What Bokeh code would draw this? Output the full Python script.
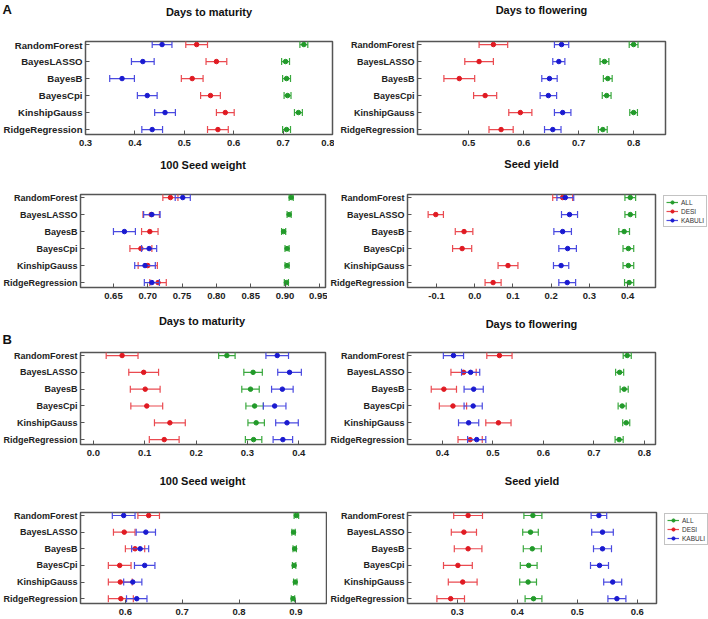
import math
from bokeh.plotting import figure
from bokeh.models import Range1d, FixedTicker, NumeralTickFormatter, Legend, LegendItem, Label, Spacer
from bokeh.layouts import column, row
from bokeh.embed import file_html
from bokeh.resources import INLINE

models = ["RandomForest", "BayesLASSO", "BayesB", "BayesCpi", "KinshipGauss", "RidgeRegression"]
groups = ["ALL", "DESI", "KABULI"]

# ---- Panel A ----
a_dtm_all = [0.742, 0.705, 0.707, 0.709, 0.731, 0.707]
a_dtm_all_err = [0.008, 0.008, 0.008, 0.007, 0.008, 0.008]
a_dtm_desi = [0.525, 0.565, 0.516, 0.553, 0.583, 0.568]
a_dtm_desi_err = [0.022, 0.021, 0.022, 0.020, 0.018, 0.021]
a_dtm_kab = [0.455, 0.416, 0.374, 0.425, 0.461, 0.435]
a_dtm_kab_err = [0.020, 0.023, 0.025, 0.020, 0.021, 0.021]

a_dtf_all = [0.800, 0.747, 0.753, 0.751, 0.800, 0.744]
a_dtf_all_err = [0.008, 0.008, 0.008, 0.008, 0.007, 0.008]
a_dtf_desi = [0.545, 0.519, 0.483, 0.530, 0.594, 0.559]
a_dtf_desi_err = [0.026, 0.026, 0.028, 0.021, 0.021, 0.022]
a_dtf_kab = [0.669, 0.664, 0.647, 0.645, 0.671, 0.653]
a_dtf_kab_err = [0.013, 0.011, 0.014, 0.015, 0.015, 0.015]

a_sw_all = [0.909, 0.906, 0.898, 0.903, 0.903, 0.902]
a_sw_all_err = [0.003, 0.003, 0.003, 0.003, 0.003, 0.003]
a_sw_desi = [0.733, 0.705, 0.703, 0.690, 0.700, 0.715]
a_sw_desi_err = [0.011, 0.012, 0.012, 0.016, 0.014, 0.012]
a_sw_kab = [0.751, 0.706, 0.666, 0.702, 0.696, 0.706]
a_sw_kab_err = [0.011, 0.012, 0.016, 0.011, 0.015, 0.011]

a_sy_all = [0.407, 0.407, 0.391, 0.402, 0.402, 0.404]
a_sy_all_err = [0.014, 0.014, 0.014, 0.014, 0.014, 0.012]
a_sy_desi = [0.230, -0.102, -0.028, -0.033, 0.087, 0.048]
a_sy_desi_err = [0.026, 0.020, 0.023, 0.025, 0.026, 0.021]
a_sy_kab = [0.237, 0.248, 0.230, 0.243, 0.226, 0.242]
a_sy_kab_err = [0.022, 0.021, 0.023, 0.023, 0.020, 0.022]

# ---- Panel B ----
b_dtm_all = [0.260, 0.311, 0.306, 0.314, 0.317, 0.312]
b_dtm_all_err = [0.016, 0.018, 0.017, 0.017, 0.016, 0.016]
b_dtm_desi = [0.056, 0.098, 0.101, 0.104, 0.149, 0.138]
b_dtm_desi_err = [0.031, 0.029, 0.029, 0.031, 0.030, 0.029]
b_dtm_kab = [0.358, 0.382, 0.368, 0.353, 0.377, 0.369]
b_dtm_kab_err = [0.022, 0.023, 0.021, 0.022, 0.022, 0.019]

b_dtf_all = [0.766, 0.751, 0.760, 0.756, 0.764, 0.750]
b_dtf_all_err = [0.008, 0.008, 0.008, 0.008, 0.007, 0.008]
b_dtf_desi = [0.513, 0.442, 0.403, 0.421, 0.511, 0.455]
b_dtf_desi_err = [0.025, 0.025, 0.025, 0.027, 0.025, 0.024]
b_dtf_kab = [0.422, 0.456, 0.462, 0.461, 0.452, 0.468]
b_dtf_kab_err = [0.020, 0.018, 0.019, 0.018, 0.020, 0.018]

b_sw_all = [0.901, 0.896, 0.898, 0.897, 0.899, 0.895]
b_sw_all_err = [0.004, 0.003, 0.003, 0.003, 0.003, 0.003]
b_sw_desi = [0.641, 0.598, 0.617, 0.590, 0.591, 0.592]
b_sw_desi_err = [0.019, 0.019, 0.017, 0.020, 0.021, 0.022]
b_sw_kab = [0.597, 0.636, 0.626, 0.634, 0.613, 0.620]
b_sw_kab_err = [0.020, 0.017, 0.015, 0.018, 0.016, 0.018]

b_sy_all = [0.426, 0.422, 0.425, 0.419, 0.418, 0.427]
b_sy_all_err = [0.015, 0.013, 0.015, 0.014, 0.014, 0.014]
b_sy_desi = [0.318, 0.311, 0.318, 0.301, 0.309, 0.289]
b_sy_desi_err = [0.024, 0.021, 0.023, 0.024, 0.024, 0.023]
b_sy_kab = [0.536, 0.542, 0.542, 0.537, 0.559, 0.566]
b_sy_kab_err = [0.013, 0.018, 0.015, 0.015, 0.015, 0.015]

titles = ["Days to maturity", "Days to flowering", "100 Seed weight", "Seed yield"]
panel_letters = ["A", "B"]

dot_colors = ["#229a2a", "#e01a22", "#1a1ad0"]
bar_colors = ["#3aa83e", "#ea4a50", "#4a4ae0"]

FONT = "Liberation Sans"
Y0, Y1 = 5.29, -0.18
TOTAL_W = 708


def blank(w, h):
    f = figure(width=w, height=h, output_backend="svg", toolbar_location=None,
               x_range=Range1d(0, w), y_range=Range1d(0, h),
               x_axis_location=None, y_axis_location=None, title_location=None,
               min_border=0)
    f.outline_line_color = None
    f.xgrid.visible = False
    f.ygrid.visible = False
    f.background_fill_color = "white"
    f.border_fill_color = "white"
    return f


def add_text(f, x, y, text, size, align="center"):
    f.add_layout(Label(x=x, y=y, text=text, text_font=FONT, text_align=align,
                       text_baseline="middle", text_font_size=size,
                       text_font_style="bold", text_color="#111111"))


def panel(series, xr, ticks, fmt, w, h, bl, br, bb, ysize="9px"):
    p = figure(width=w, height=h, output_backend="svg", toolbar_location=None,
               x_range=Range1d(*xr), y_range=Range1d(Y0, Y1), title_location=None,
               min_border_left=bl, min_border_right=br, min_border_top=2, min_border_bottom=bb)
    p.outline_line_color = "#555555"
    p.outline_line_width = 1.5
    p.xgrid.visible = False
    p.ygrid.visible = False
    p.background_fill_color = None
    p.border_fill_color = None

    ys = list(range(len(models)))
    for gi, (vals, errs) in enumerate(series):
        lo = [v - e for v, e in zip(vals, errs)]
        hi = [v + e for v, e in zip(vals, errs)]
        p.segment(x0=lo, x1=hi, y0=ys, y1=ys, line_color=bar_colors[gi], line_width=1.2)
        p.scatter(x=lo + hi, y=ys + ys, marker="dash", angle=math.pi / 2, size=7,
                  line_color=bar_colors[gi], line_width=1.2)
        p.scatter(x=vals, y=ys, size=4.5, fill_color=dot_colors[gi], line_color=dot_colors[gi])

    p.xaxis.ticker = FixedTicker(ticks=ticks)
    p.xaxis.formatter = NumeralTickFormatter(format=fmt)
    p.yaxis.ticker = FixedTicker(ticks=ys)
    p.yaxis.major_label_overrides = {i: m for i, m in enumerate(models)}
    for ax in (p.xaxis[0], p.yaxis[0]):
        ax.axis_line_color = None
        ax.major_tick_in = 4
        ax.major_tick_out = 0
        ax.major_tick_line_color = "#555555"
        ax.minor_tick_line_color = None
        ax.major_label_text_font = FONT
        ax.major_label_text_font_style = "bold"
        ax.major_label_text_color = "#222222"
    p.xaxis.major_label_text_font_size = "9.5px"
    p.xaxis.major_label_standoff = 5
    p.yaxis.major_label_text_font_size = ysize
    p.yaxis.major_label_standoff = 3
    return p


def legend_fig(w, h):
    f = blank(w, h)
    items = []
    for gi, g in enumerate(groups):
        seg = f.segment(x0=[-20], x1=[-10], y0=[-20], y1=[-20], line_color=bar_colors[gi], line_width=1.2)
        dot = f.scatter(x=[-15], y=[-20], size=4, fill_color=dot_colors[gi], line_color=dot_colors[gi])
        items.append(LegendItem(label=g, renderers=[seg, dot]))
    lg = Legend(items=items, location="top_left")
    lg.label_text_font = FONT
    lg.label_text_font_size = "6.5px"
    lg.label_text_color = "#333333"
    lg.glyph_width = 12
    lg.glyph_height = 8
    lg.label_height = 8
    lg.label_standoff = 3
    lg.spacing = 1
    lg.padding = 2
    lg.margin = 1
    lg.border_line_color = "#888888"
    lg.border_line_width = 1
    lg.background_fill_alpha = 1
    f.add_layout(lg, "center")
    return f


def header(h, lc, rc, left_y, right_y, letter=None, letter_y=None):
    f = blank(TOTAL_W, h)
    add_text(f, lc[0], h - left_y, lc[1], "11px")
    add_text(f, rc[0], h - right_y, rc[1], "11px")
    if letter is not None:
        add_text(f, 2, h - letter_y, letter, "13px", align="left")
    return f


# frame edges (left panel: left/right; right panel: left/right) per row, in page px
row1_edges = (85, 332, 417, 665)
row2_edges = (80, 325, 407, 655)
row3_edges = (78, 325, 407, 655)
row4_edges = (78, 326, 407, 656)


def geo(edges, split):
    ll, lr, rl, rr = edges
    return dict(lw=split, lbl=ll, lbr=split - lr, rbl=rl - split,
                lc=(ll + lr) / 2, rc=(rl + rr) / 2)


# Row 1
g1 = geo(row1_edges, 334)
h1 = header(39, (g1["lc"], titles[0]), (g1["rc"], titles[1]), 11, 9, panel_letters[0], 9)
p1 = panel([(a_dtm_all, a_dtm_all_err), (a_dtm_desi, a_dtm_desi_err), (a_dtm_kab, a_dtm_kab_err)],
           (0.3, 0.8), [0.3, 0.4, 0.5, 0.6, 0.7, 0.8], "0.0", g1["lw"], 113, g1["lbl"], g1["lbr"], 18,
           ysize="9.6px")
p2 = panel([(a_dtf_all, a_dtf_all_err), (a_dtf_desi, a_dtf_desi_err), (a_dtf_kab, a_dtf_kab_err)],
           (0.407, 0.858), [0.5, 0.6, 0.7, 0.8], "0.0", TOTAL_W - g1["lw"], 113, g1["rbl"],
           TOTAL_W - row1_edges[3], 18)

# Row 2
g2 = geo(row2_edges, 327)
h2 = header(40, (g2["lc"], titles[2]), (g2["rc"], titles[3]), 12, 11)
p3 = panel([(a_sw_all, a_sw_all_err), (a_sw_desi, a_sw_desi_err), (a_sw_kab, a_sw_kab_err)],
           (0.602, 0.959), [0.65, 0.70, 0.75, 0.80, 0.85, 0.90, 0.95], "0.00", g2["lw"], 114,
           g2["lbl"], g2["lbr"], 19)
p4w = row2_edges[3] + 2 - g2["lw"]
p4 = panel([(a_sy_all, a_sy_all_err), (a_sy_desi, a_sy_desi_err), (a_sy_kab, a_sy_kab_err)],
           (-0.176, 0.473), [-0.1, 0.0, 0.1, 0.2, 0.3, 0.4], "0.0", p4w, 114, g2["rbl"], 2, 19)
sp1 = Spacer(width=5, height=114)
lg1 = legend_fig(TOTAL_W - g2["lw"] - p4w - 5, 114)

# Row 3
g3 = geo(row3_edges, 327)
h3 = header(44, (g3["lc"], titles[0]), (g3["rc"], titles[1]), 14, 17, panel_letters[1], 33)
p5 = panel([(b_dtm_all, b_dtm_all_err), (b_dtm_desi, b_dtm_desi_err), (b_dtm_kab, b_dtm_kab_err)],
           (-0.025, 0.452), [0.0, 0.1, 0.2, 0.3, 0.4], "0.0", g3["lw"], 116, g3["lbl"], g3["lbr"], 22)
p6 = panel([(b_dtf_all, b_dtf_all_err), (b_dtf_desi, b_dtf_desi_err), (b_dtf_kab, b_dtf_kab_err)],
           (0.331, 0.822), [0.4, 0.5, 0.6, 0.7, 0.8], "0.0", TOTAL_W - g3["lw"], 116, g3["rbl"],
           TOTAL_W - row3_edges[3], 22)

# Row 4
g4 = geo(row4_edges, 327)
h4 = header(44, (g4["lc"], titles[2]), (g4["rc"], titles[3]), 14, 14)
p7 = panel([(b_sw_all, b_sw_all_err), (b_sw_desi, b_sw_desi_err), (b_sw_kab, b_sw_kab_err)],
           (0.521, 0.954), [0.6, 0.7, 0.8, 0.9], "0.0", g4["lw"], 108, g4["lbl"], g4["lbr"], 15)
p8w = row4_edges[3] + 2 - g4["lw"]
p8 = panel([(b_sy_all, b_sy_all_err), (b_sy_desi, b_sy_desi_err), (b_sy_kab, b_sy_kab_err)],
           (0.217, 0.632), [0.3, 0.4, 0.5, 0.6], "0.0", p8w, 108, g4["rbl"], 2, 15)
sp2 = Spacer(width=5, height=108)
lg2 = legend_fig(TOTAL_W - g4["lw"] - p8w - 5, 108)

layout = column(h1, row(p1, p2), h2, row(p3, p4, sp1, lg1), h3, row(p5, p6), h4, row(p7, p8, sp2, lg2))
open("out.html", "w").write(file_html(layout, INLINE))
